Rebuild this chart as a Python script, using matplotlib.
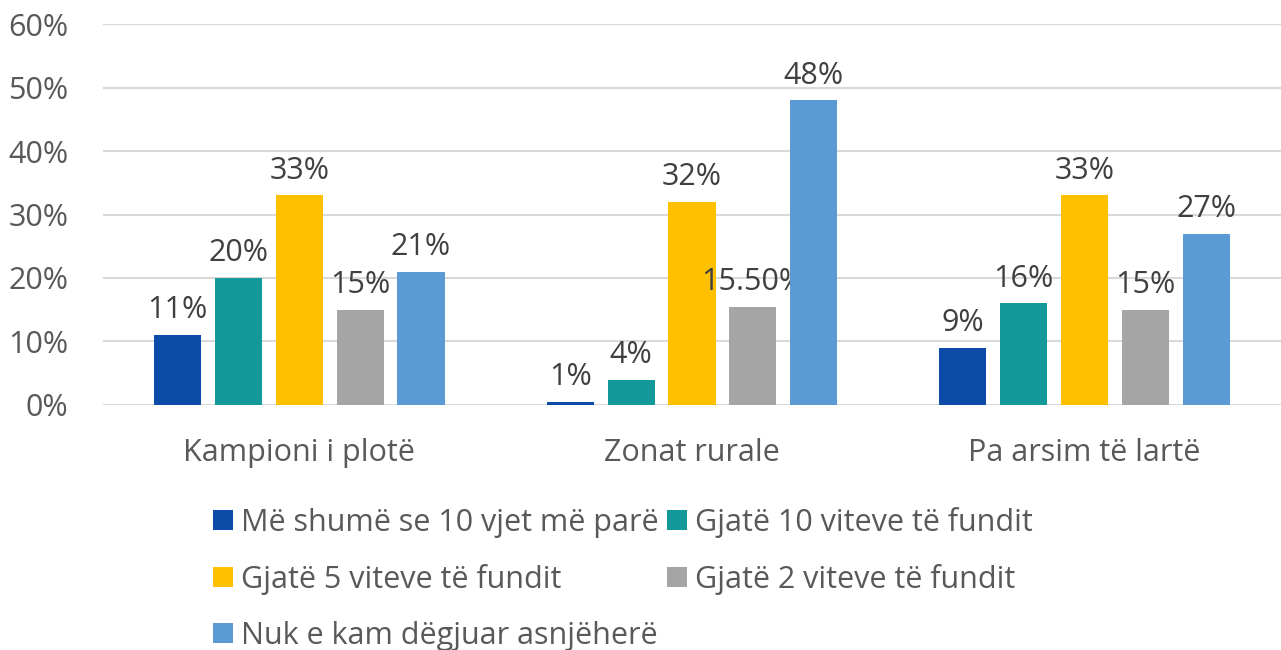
import matplotlib
matplotlib.use('Agg')
import matplotlib.pyplot as plt
import numpy as np

plt.rcParams['font.family'] = ['Open Sans', 'DejaVu Sans']

categories = ['Kampioni i plotë', 'Zonat rurale', 'Pa arsim të lartë']
series_names = ['Më shumë se 10 vjet më parë', 'Gjatë 10 viteve të fundit',
                'Gjatë 5 viteve të fundit', 'Gjatë 2 viteve të fundit',
                'Nuk e kam dëgjuar asnjëherë']
more_10 = [11, 0.5, 9]
last_10 = [20, 4, 16]
last_5 = [33, 32, 33]
last_2 = [15, 15.5, 15]
never = [21, 48, 27]
labels_more_10 = ['11%', '1%', '9%']
labels_last_10 = ['20%', '4%', '16%']
labels_last_5 = ['33%', '32%', '33%']
labels_last_2 = ['15%', '15.50%', '15%']
labels_never = ['21%', '48%', '27%']

colors = ['#0D4BA8', '#13999A', '#FFC000', '#A5A5A5', '#5B9BD5']
values = [more_10, last_10, last_5, last_2, never]
labels = [labels_more_10, labels_last_10, labels_last_5, labels_last_2, labels_never]

fig = plt.figure(figsize=(12.81, 6.5), dpi=100)
ax = fig.add_axes([0.0804, 0.377, 0.9196, 0.586])

x = np.arange(len(categories))
width = 0.12
pitch = 0.155
handles = []
for i, (vals, lbls, c, name) in enumerate(zip(values, labels, colors, series_names)):
    pos = x + (i - 2) * pitch
    bars = ax.bar(pos, vals, width, color=c, label=name, zorder=3)
    handles.append(bars)
    for b, t in zip(bars, lbls):
        ax.annotate(t, (b.get_x() + b.get_width() / 2, b.get_height()),
                    xytext=(0, 7), textcoords='offset points',
                    ha='center', va='bottom', fontsize=22, color='#404040')

ax.set_xlim(-0.5, 2.5)
ax.set_ylim(0, 60)
ax.set_yticks(range(0, 61, 10))
ax.set_yticklabels([f'{v}%' for v in range(0, 61, 10)])
ax.set_xticks(x)
ax.set_xticklabels(categories)
ax.tick_params(axis='both', length=0, labelsize=22, colors='#595959')
ax.tick_params(axis='x', pad=24)
ax.tick_params(axis='y', pad=25)
ax.grid(axis='y', color='#D9D9D9', linewidth=1.5, zorder=0)
for s in ax.spines.values():
    s.set_visible(False)

# legend fills row by row in the original, so reorder for column-wise filling
order = [0, 2, 4, 1, 3]
leg = fig.legend([handles[i] for i in order], [series_names[i] for i in order],
                 ncol=2, loc='upper left', bbox_to_anchor=(0.1565, 0.239),
                 frameon=False, fontsize=22, labelcolor='#595959',
                 handlelength=0.65, handleheight=0.65, handletextpad=0.26,
                 columnspacing=0.3, labelspacing=0.85, borderaxespad=0)

fig.savefig('out.png', dpi=100)
